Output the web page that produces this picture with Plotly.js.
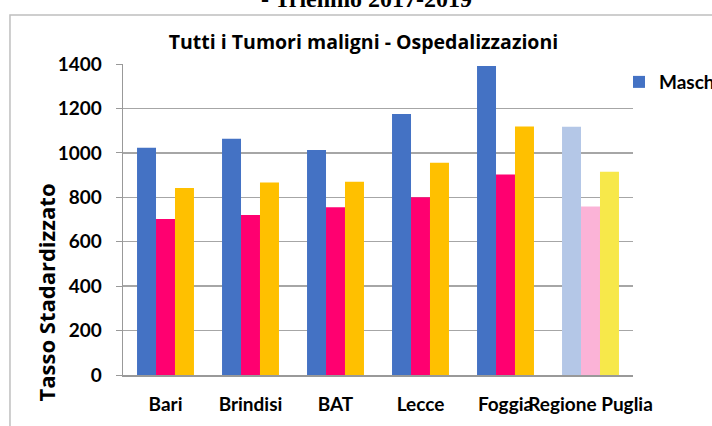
<!DOCTYPE html>
<html><head><meta charset="utf-8">
<script src="https://cdn.plot.ly/plotly-3.0.1.min.js"></script>
<style>html,body{margin:0;padding:0;background:#fff;}#chart{width:712px;height:426px;}</style>
</head><body><div id="chart"></div>
<script>
const categories = ["Bari", "Brindisi", "BAT", "Lecce", "Foggia", "Regione Puglia"];
const maschi = [1023, 1064, 1013, 1175, 1391, 1118];
const femmine = [702, 720, 755, 800, 903, 758];
const totale = [842, 866, 870, 956, 1119, 915];
const seriesNames = ["Maschi", "Femmine", "Totale"];
const colorsMaschi = ["#4472C4", "#4472C4", "#4472C4", "#4472C4", "#4472C4", "#B4C7E7"];
const colorsFemmine = ["#FF0070", "#FF0070", "#FF0070", "#FF0070", "#FF0070", "#FBB3D7"];
const colorsTotale = ["#FFC000", "#FFC000", "#FFC000", "#FFC000", "#FFC000", "#F7E84A"];
const yTicks = [0, 200, 400, 600, 800, 1000, 1200, 1400];

const font = "Lato, sans-serif";
const wideFont = "'Open Sans', Lato, sans-serif";
const traces = [
  {type: "bar", name: seriesNames[0], x: categories, y: maschi, marker: {color: colorsMaschi}, showlegend: true},
  {type: "bar", name: seriesNames[1], x: categories, y: femmine, marker: {color: colorsFemmine}, showlegend: false},
  {type: "bar", name: seriesNames[2], x: categories, y: totale, marker: {color: colorsTotale}, showlegend: false}
];
const layout = {
  width: 712, height: 426,
  margin: {l: 123, r: 79, t: 64, b: 51, autoexpand: false},
  paper_bgcolor: "#fff", plot_bgcolor: "#fff",
  barmode: "group", bargap: 0.33, bargroupgap: 0,
  font: {family: font, color: "#000"},
  title: {text: "<b>Tutti i Tumori maligni - Ospedalizzazioni</b>", font: {size: 19.5, family: wideFont, color: "#000"},
          x: 0.5105, xanchor: "center", y: 0.900, yanchor: "middle"},
  xaxis: {type: "category", showgrid: false, showline: true, linecolor: "#999", linewidth: 1.5,
          ticks: "", tickangle: 0, automargin: false,
          tickfont: {size: 19, family: font, color: "#000", weight: "bold"}, ticklabelstandoff: 12},
  yaxis: {range: [0, 1400], tickvals: yTicks, showgrid: true, gridcolor: "#a6a6a6", gridwidth: 1.3,
          zeroline: false, showline: true, linecolor: "#999", linewidth: 1.3, automargin: false,
          ticks: "outside", ticklen: 6, tickcolor: "#999",
          tickfont: {size: 19, family: font, color: "#000", weight: "bold"},
          tickformat: "d", ticklabelstandoff: 10},
  legend: {x: 0.9725, xanchor: "left", y: 0.942, yanchor: "middle",
           font: {size: 19, family: font, color: "#000", weight: "bold"},
           bgcolor: "rgba(0,0,0,0)", itemwidth: 30},
  shapes: [{type: "rect", xref: "paper", yref: "paper", x0: -0.2216, x1: 1.2, y0: -0.2, y1: 1.1576,
            line: {color: "#bfbfbf", width: 1.5}, fillcolor: "rgba(0,0,0,0)", layer: "below"}],
  annotations: [
    {text: "<b>- Triennio 2017-2019</b>", xref: "paper", yref: "paper", x: 0.478, y: 1.209,
     xanchor: "center", yanchor: "middle", showarrow: false,
     font: {size: 24, family: "'Liberation Serif', 'Times New Roman', serif", color: "#000"}},
    {text: "<b>Tasso Stadardizzato</b>", xref: "paper", yref: "paper", x: -0.152, y: 0.267,
     xanchor: "center", yanchor: "middle", textangle: -90, showarrow: false,
     font: {size: 22, family: wideFont, color: "#000"}}
  ]
};
Plotly.newPlot("chart", traces, layout, {displayModeBar: false, staticPlot: true});
</script></body></html>
